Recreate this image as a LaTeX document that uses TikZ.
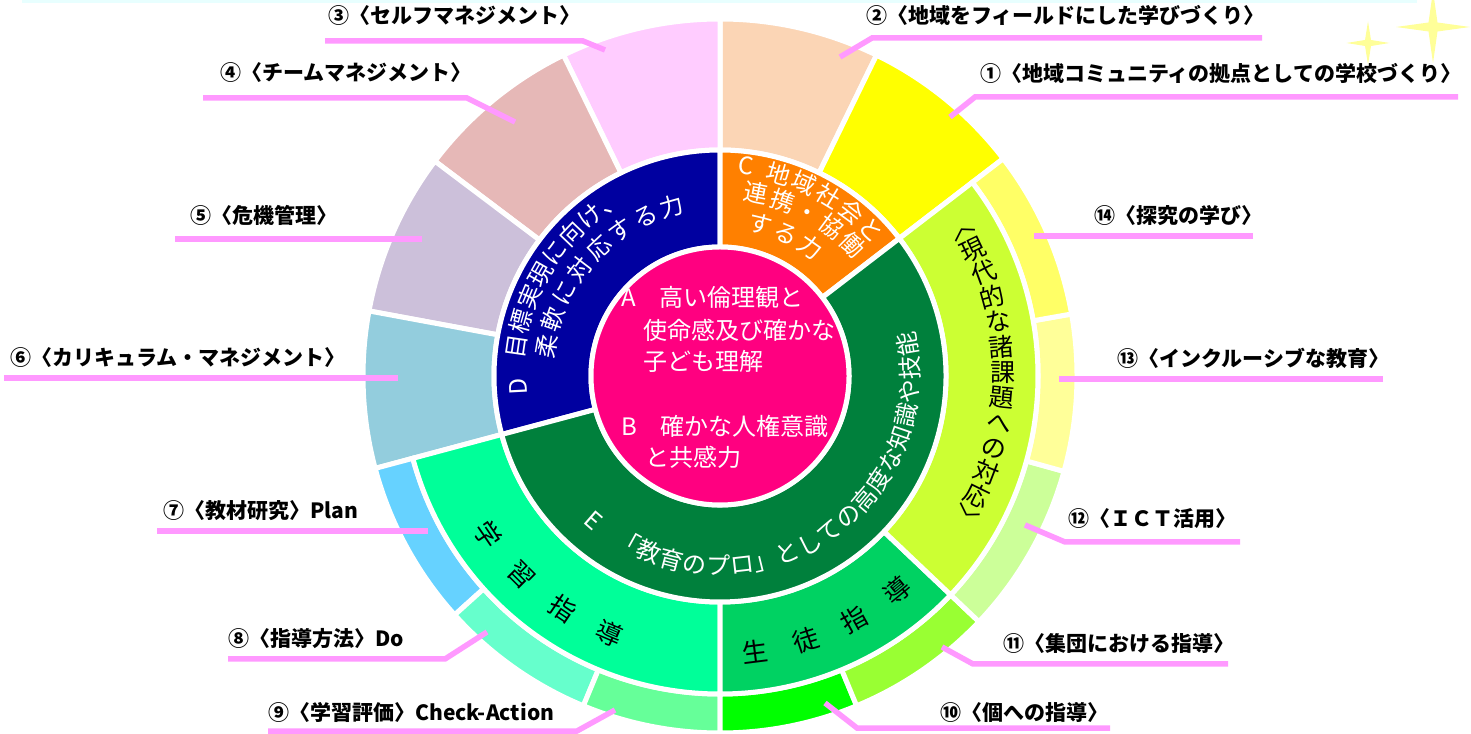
\documentclass[tikz,border=0pt]{standalone}
\usepackage{fontspec}
\newfontfamily\jp{Noto Sans CJK JP}
\usetikzlibrary{calc}
\definecolor{cPink}{HTML}{FF0080}
\definecolor{cD}{HTML}{0000A0}
\definecolor{cC}{HTML}{FF8000}
\definecolor{cE}{HTML}{00803C}
\definecolor{cGak}{HTML}{00FF99}
\definecolor{cSei}{HTML}{00D262}
\definecolor{cGen}{HTML}{CCFF33}
\definecolor{c1}{HTML}{FFFF00}
\definecolor{c2}{HTML}{FBD5B5}
\definecolor{c3}{HTML}{FFCCFF}
\definecolor{c4}{HTML}{E6B8B7}
\definecolor{c5}{HTML}{CCC0DA}
\definecolor{c6}{HTML}{93CDDD}
\definecolor{c7}{HTML}{66D2FF}
\definecolor{c8}{HTML}{66FFCC}
\definecolor{c9}{HTML}{66FF99}
\definecolor{c10}{HTML}{00FF00}
\definecolor{c11}{HTML}{99FF33}
\definecolor{c12}{HTML}{CCFF99}
\definecolor{c13}{HTML}{FFFF99}
\definecolor{c14}{HTML}{FFFF66}
\definecolor{cLine}{HTML}{FF99FF}
\definecolor{cStar}{HTML}{FFFF99}
\definecolor{cBand}{HTML}{E8FFFF}
\newcommand{\mysec}[5]{\filldraw[fill=#1,draw=white,line width=5pt] (#2:#4) arc[start angle=#2,end angle=#3,radius=#4pt] -- (#3:#5) arc[start angle=#3,end angle=#2,radius=#5pt] -- cycle;}
\newcommand{\arcchars}[6]{%
  \foreach \ch [count=\i from 0] in {#6} {%
    \pgfmathsetmacro\myang{#3+\i*(#4)}%
    \node[name=#1\i, rotate=\myang+#5] at (\myang:#2) {\ch};
  }}
\begin{document}
\begin{tikzpicture}[x=1pt,y=1pt,
  lbl/.style={font=\jp\bfseries\fontsize{21}{24}\selectfont, anchor=west, inner sep=0, text=black, text height=0.88em, text depth=0.12em},
  leader/.style={draw=cLine, line width=5.5pt},
  arcw/.style={text=white, inner sep=0, text height=0.88em, text depth=0.12em, font=\jp\fontsize{24}{24}\selectfont},
  arck/.style={text=black, inner sep=0, text height=0.88em, text depth=0.12em, font=\jp\fontsize{26}{26}\selectfont},
  core/.style={text=white, inner sep=0, anchor=west, text height=0.88em, text depth=0.12em, font=\jp\fontsize{24}{24}\selectfont}]
\useasboundingbox (0,0) rectangle (1471,733);
\fill[white] (0,0) rectangle (1471,733);
\fill[cBand] (22,730) rectangle (1417,733);
% stars
\fill[cStar, shift={(1433,706)}] (0,36) -- (4.5,4.5) -- (37,0) -- (4.5,-4.5) -- (0,-36) -- (-4.5,-4.5) -- (-37,0) -- (-4.5,4.5) -- cycle;
\fill[cStar, shift={(1368,690)}] (0,21.5) -- (3,3) -- (21.5,0) -- (3,-3) -- (0,-21.5) -- (-3,-3) -- (-21.5,0) -- (-3,3) -- cycle;
\begin{scope}[shift={(720,357)}]
% outer ring
\mysec{c2}{64}{90}{226}{357}
\mysec{c3}{90}{116}{226}{357}
\mysec{c4}{116}{143}{226}{357}
\mysec{c5}{143}{169.5}{226}{357}
\mysec{c6}{169.5}{195}{226}{357}
\mysec{c1}{37.5}{64}{226}{357}
\mysec{c7}{195}{222}{318}{357}
\mysec{c8}{222}{247.5}{318}{357}
\mysec{c9}{247.5}{270}{318}{357}
\mysec{c10}{270}{292.5}{318}{357}
\mysec{c11}{292.5}{316.5}{318}{357}
\mysec{c12}{316.5}{344.5}{318}{357}
\mysec{c13}{344.5}{370}{318}{357}
\mysec{c14}{370}{397.5}{318}{357}
% ring 3
\mysec{cGak}{195}{270}{226}{318}
\mysec{cSei}{270}{316.5}{226}{318}
\mysec{cGen}{316.5}{397.5}{226}{318}
% ring 2
\mysec{cD}{90}{195}{129}{226}
\mysec{cC}{37.5}{90}{129}{226}
\mysec{cE}{195}{397.5}{129}{226}
% core
\filldraw[fill=cPink, draw=white, line width=5pt] (0,0) circle[radius=129pt];
% arc texts
\begin{scope}[every node/.style={arcw}]
\node[rotate=93] (Dl) at (183:197) {D};
\arcchars{Da}{201}{171.7}{-7.1}{-90}{目,標,実,現,に,向,け,、}
\arcchars{Db}{171}{170.3}{-9.2}{-90}{柔,軟,に,対,応,す,る,力}
\node[rotate=-7] (Cl) at (83:207) {C};
\arcchars{Ca}{205}{73.8}{-7.45}{-90}{地,域,社,会,と}
\arcchars{Cb}{181}{78.9}{-8.5}{-90}{連,携,・,協,働}
\arcchars{Cc}{152}{75}{-10}{-90}{す,る,力}
\node[rotate=319] (El) at (229:197) {E};
\arcchars{Ea}{195}{240.9}{7.15}{90}{「,教,育,の,プ,ロ,」,と,し,て,の,高,度,な,知,識,や,技,能}
\end{scope}
\begin{scope}[every node/.style={arck}]
\arcchars{G}{287}{214.3}{10.8}{90}{学,習,指,導}
\arcchars{S}{284}{277.2}{10.8}{90}{生,徒,指,導}
\end{scope}
\begin{scope}[every node/.style={arck, font=\jp\fontsize{25}{25}\selectfont}]
\arcchars{K}{283}{30.6}{-5.16}{0}{︿,現,代,的,な,諸,課,題,へ,の,対,応,﹀}
\end{scope}
\end{scope}
% core texts
\node[core] (A1) at (621,430) {A　高い倫理観と};
\node[core] (A2) at (643,397) {使命感及び確かな};
\node[core] (A3) at (643,366) {子ども理解};
\node[core] (B1) at (621,301) {B　確かな人権意識};
\node[core] (B2) at (645,270) {と共感力};
% labels
\node[lbl] (L3) at (328,713) {③〈セルフマネジメント〉};
\node[lbl] (L4) at (220,656) {④〈チームマネジメント〉};
\node[lbl] (L5) at (190,513) {⑤〈危機管理〉};
\node[lbl] (L6) at (10,371) {⑥〈カリキュラム・マネジメント〉};
\node[lbl] (L7) at (163,218) {⑦〈教材研究〉Plan};
\node[lbl] (L8) at (228,90) {⑧〈指導方法〉Do};
\node[lbl] (L9) at (268,16) {⑨〈学習評価〉Check-Action};
\node[lbl] (L10) at (940,16) {⑩〈個への指導〉};
\node[lbl] (L11) at (1003,85) {⑪〈集団における指導〉};
\node[lbl] (L12) at (1068,210) {⑫〈ＩＣＴ活用〉};
\node[lbl] (L13) at (1117,370) {⑬〈インクルーシブな教育〉};
\node[lbl] (L14) at (1094,513) {⑭〈探究の学び〉};
\node[lbl] (L2) at (866,713) {②〈地域をフィールドにした学びづくり〉};
\node[lbl] (L1) at (980,655) {①〈地域コミュニティの拠点としての学校づくり〉};
% leader coordinates
\coordinate (P3a) at (325,692); \coordinate (P3b) at (583,692); \coordinate (P3c) at (605,683);
\coordinate (P4a) at (203,635); \coordinate (P4b) at (467,635); \coordinate (P4c) at (515,611);
\coordinate (P5a) at (175,494); \coordinate (P5b) at (422,494);
\coordinate (P6a) at (4,355); \coordinate (P6b) at (398,355);
\coordinate (P7a) at (157,202); \coordinate (P7b) at (428,202);
\coordinate (P8a) at (228,74); \coordinate (P8b) at (445,74); \coordinate (P8c) at (487,101);
\coordinate (P9a) at (268,2); \coordinate (P9b) at (577,2); \coordinate (P9c) at (615,23);
\coordinate (P10a) at (1110,5); \coordinate (P10b) at (857,5); \coordinate (P10c) at (825,30);
\coordinate (P11a) at (1228,69); \coordinate (P11b) at (973,69); \coordinate (P11c) at (942,86);
\coordinate (P12a) at (1240,191); \coordinate (P12b) at (1065,191); \coordinate (P12c) at (1025,208);
\coordinate (P13a) at (1383,354); \coordinate (P13b) at (1059,354);
\coordinate (P14a) at (1253,497); \coordinate (P14b) at (1034,497);
\coordinate (P2a) at (1262,695); \coordinate (P2b) at (872,695); \coordinate (P2c) at (840,676);
\coordinate (P1a) at (1458,636); \coordinate (P1b) at (975,636); \coordinate (P1c) at (950,616);
\draw[leader] (P3a) -- (P3b) -- (P3c);
\draw[leader] (P4a) -- (P4b) -- (P4c);
\draw[leader] (P5a) -- (P5b);
\draw[leader] (P6a) -- (P6b);
\draw[leader] (P7a) -- (P7b);
\draw[leader] (P8a) -- (P8b) -- (P8c);
\draw[leader] (P9a) -- (P9b) -- (P9c);
\draw[leader] (P10a) -- (P10b) -- (P10c);
\draw[leader] (P11a) -- (P11b) -- (P11c);
\draw[leader] (P12a) -- (P12b) -- (P12c);
\draw[leader] (P13a) -- (P13b);
\draw[leader] (P14a) -- (P14b);
\draw[leader] (P2a) -- (P2b) -- (P2c);
\draw[leader] (P1a) -- (P1b) -- (P1c);
\end{tikzpicture}
\end{document}
